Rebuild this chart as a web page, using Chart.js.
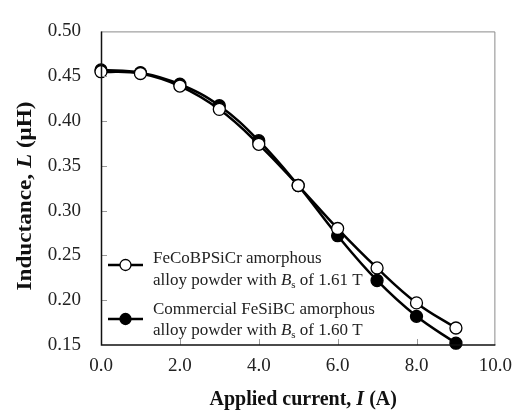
<!DOCTYPE html>
<html>
<head>
<meta charset="utf-8">
<script src="https://cdn.jsdelivr.net/npm/chart.js@4/dist/chart.umd.min.js"></script>
<style>
  html, body { margin: 0; padding: 0; background: #fff; }
  #wrap { width: 522px; height: 414px; }
</style>
</head>
<body>
<div id="wrap"><canvas id="lChart" width="522" height="414"></canvas></div>
<script>
// applied current (A)
const current = [0, 1, 2, 3, 4, 5, 6, 7, 8, 9];
// inductance (uH)
const feCoBPSiCr = [0.455, 0.453, 0.439, 0.413, 0.374, 0.328, 0.280, 0.236, 0.197, 0.169];
const feSiBC     = [0.457, 0.454, 0.441, 0.417, 0.378, 0.328, 0.272, 0.222, 0.182, 0.152];
const yTicks = [0.15, 0.20, 0.25, 0.30, 0.35, 0.40, 0.45, 0.50];
const xTicks = [0.0, 2.0, 4.0, 6.0, 8.0, 10.0];

const serif = "'Liberation Serif', 'Times New Roman', serif";

function pts(ys) {
  return current.map((x, i) => ({ x: x, y: ys[i] }));
}

// draw a row of text pieces (different fonts) starting at x
function drawPieces(ctx, pieces, x, y) {
  pieces.forEach(p => {
    ctx.font = p.font;
    ctx.fillText(p.t, x, y + (p.dy || 0));
    x += ctx.measureText(p.t).width;
  });
}
function piecesWidth(ctx, pieces) {
  let w = 0;
  pieces.forEach(p => { ctx.font = p.font; w += ctx.measureText(p.t).width; });
  return w;
}

const frame = {
  id: 'frame',
  afterDraw(chart) {
    const ctx = chart.ctx;
    const a = chart.chartArea;
    const xs = chart.scales.x, ys = chart.scales.y;
    ctx.save();
    // box, top/right grey
    ctx.strokeStyle = '#8a8a8a';
    ctx.lineWidth = 1;
    ctx.beginPath();
    ctx.moveTo(a.left, a.top + 0.5); ctx.lineTo(a.right - 0.5, a.top + 0.5); ctx.lineTo(a.right - 0.5, a.bottom);
    ctx.stroke();
    // inner ticks
    ctx.strokeStyle = '#999';
    yTicks.slice(1, -1).forEach(v => {
      const py = Math.round(ys.getPixelForValue(v)) + 0.5;
      ctx.beginPath(); ctx.moveTo(a.left, py); ctx.lineTo(a.left + 6, py); ctx.stroke();
    });
    xTicks.slice(1, -1).forEach(v => {
      const px = Math.round(xs.getPixelForValue(v)) + 0.5;
      ctx.beginPath(); ctx.moveTo(px, a.bottom); ctx.lineTo(px, a.bottom - 6); ctx.stroke();
    });
    // axis lines
    ctx.strokeStyle = '#111';
    ctx.lineWidth = 1.5;
    ctx.beginPath();
    ctx.moveTo(a.left + 0.5, a.top); ctx.lineTo(a.left + 0.5, a.bottom); ctx.lineTo(a.right, a.bottom);
    ctx.stroke();

    // axis titles
    ctx.fillStyle = '#111';
    ctx.textBaseline = 'alphabetic';
    const bold = 'bold 20px ' + serif, boldIt = 'italic bold 20px ' + serif;
    const xt = [{ t: 'Applied current, ', font: bold }, { t: 'I', font: boldIt }, { t: ' (A)', font: bold }];
    drawPieces(ctx, xt, (a.left + a.right) / 2 + 5 - piecesWidth(ctx, xt) / 2, 405);
    const yt = [{ t: 'Inductance, ', font: bold }, { t: 'L', font: boldIt }, { t: ' (\u03bcH)', font: bold }];
    ctx.translate(31, 196);
    ctx.rotate(-Math.PI / 2);
    ctx.scale(1.16, 1);
    drawPieces(ctx, yt, -piecesWidth(ctx, yt) / 2, 0);
    ctx.setTransform(1, 0, 0, 1, 0, 0);

    // legend
    const reg = '17px ' + serif, it = 'italic 17px ' + serif, sub = '11px ' + serif;
    const entries = [
      { fill: '#fff', sy: 265, lines: [
        [{ t: 'FeCoBPSiCr amorphous', font: reg }],
        [{ t: 'alloy powder with ', font: reg }, { t: 'B', font: it }, { t: 's', font: sub, dy: 3 }, { t: ' of 1.61 T', font: reg }]
      ], by: [263, 285] },
      { fill: '#000', sy: 319, lines: [
        [{ t: 'Commercial FeSiBC amorphous', font: reg }],
        [{ t: 'alloy powder with ', font: reg }, { t: 'B', font: it }, { t: 's', font: sub, dy: 3 }, { t: ' of 1.60 T', font: reg }]
      ], by: [314, 335] }
    ];
    entries.forEach(e => {
      ctx.strokeStyle = '#000';
      ctx.lineWidth = 2.5;
      ctx.beginPath(); ctx.moveTo(108, e.sy); ctx.lineTo(143, e.sy); ctx.stroke();
      ctx.lineWidth = 1.3;
      ctx.fillStyle = e.fill;
      ctx.beginPath(); ctx.arc(125.5, e.sy, 5.5, 0, Math.PI * 2); ctx.fill(); ctx.stroke();
      ctx.fillStyle = '#222';
      e.lines.forEach((ln, i) => drawPieces(ctx, ln, 153, e.by[i]));
    });
    ctx.restore();
  }
};

new Chart(document.getElementById('lChart'), {
  type: 'line',
  data: {
    datasets: [
      {
        label: 'FeCoBPSiCr amorphous alloy powder with Bs of 1.61 T',
        data: pts(feCoBPSiCr),
        borderColor: '#000',
        borderWidth: 2.5,
        backgroundColor: '#fff',
        pointBackgroundColor: '#fff',
        pointBorderColor: '#000',
        pointBorderWidth: 1.3,
        pointRadius: 6,
        tension: 0.4
      },
      {
        label: 'Commercial FeSiBC amorphous alloy powder with Bs of 1.60 T',
        data: pts(feSiBC),
        borderColor: '#000',
        borderWidth: 2.5,
        backgroundColor: '#000',
        pointBackgroundColor: '#000',
        pointBorderColor: '#000',
        pointBorderWidth: 1.3,
        pointRadius: 6,
        tension: 0.4
      }
    ]
  },
  options: {
    responsive: false,
    animation: false,
    clip: false,
    layout: { padding: { top: 19, right: 22, left: 0, bottom: 0 } },
    plugins: { legend: { display: false }, tooltip: { enabled: false } },
    scales: {
      x: {
        type: 'linear',
        min: 0, max: 10,
        afterFit(s) { s.height = 69; },
        afterBuildTicks(s) { s.ticks = xTicks.map(v => ({ value: v })); },
        grid: { display: false, drawTicks: false },
        border: { display: false },
        ticks: {
          padding: 10,
          color: '#222',
          font: { family: serif, size: 19 },
          callback: v => v.toFixed(1)
        }
      },
      y: {
        min: 0.15, max: 0.5,
        afterFit(s) { s.width = 101; },
        afterBuildTicks(s) { s.ticks = yTicks.map(v => ({ value: v })); },
        grid: { display: false, drawTicks: false },
        border: { display: false },
        ticks: {
          padding: 20,
          color: '#222',
          font: { family: serif, size: 19 },
          callback: v => v.toFixed(2)
        }
      }
    }
  },
  plugins: [frame]
});
</script>
</body>
</html>
